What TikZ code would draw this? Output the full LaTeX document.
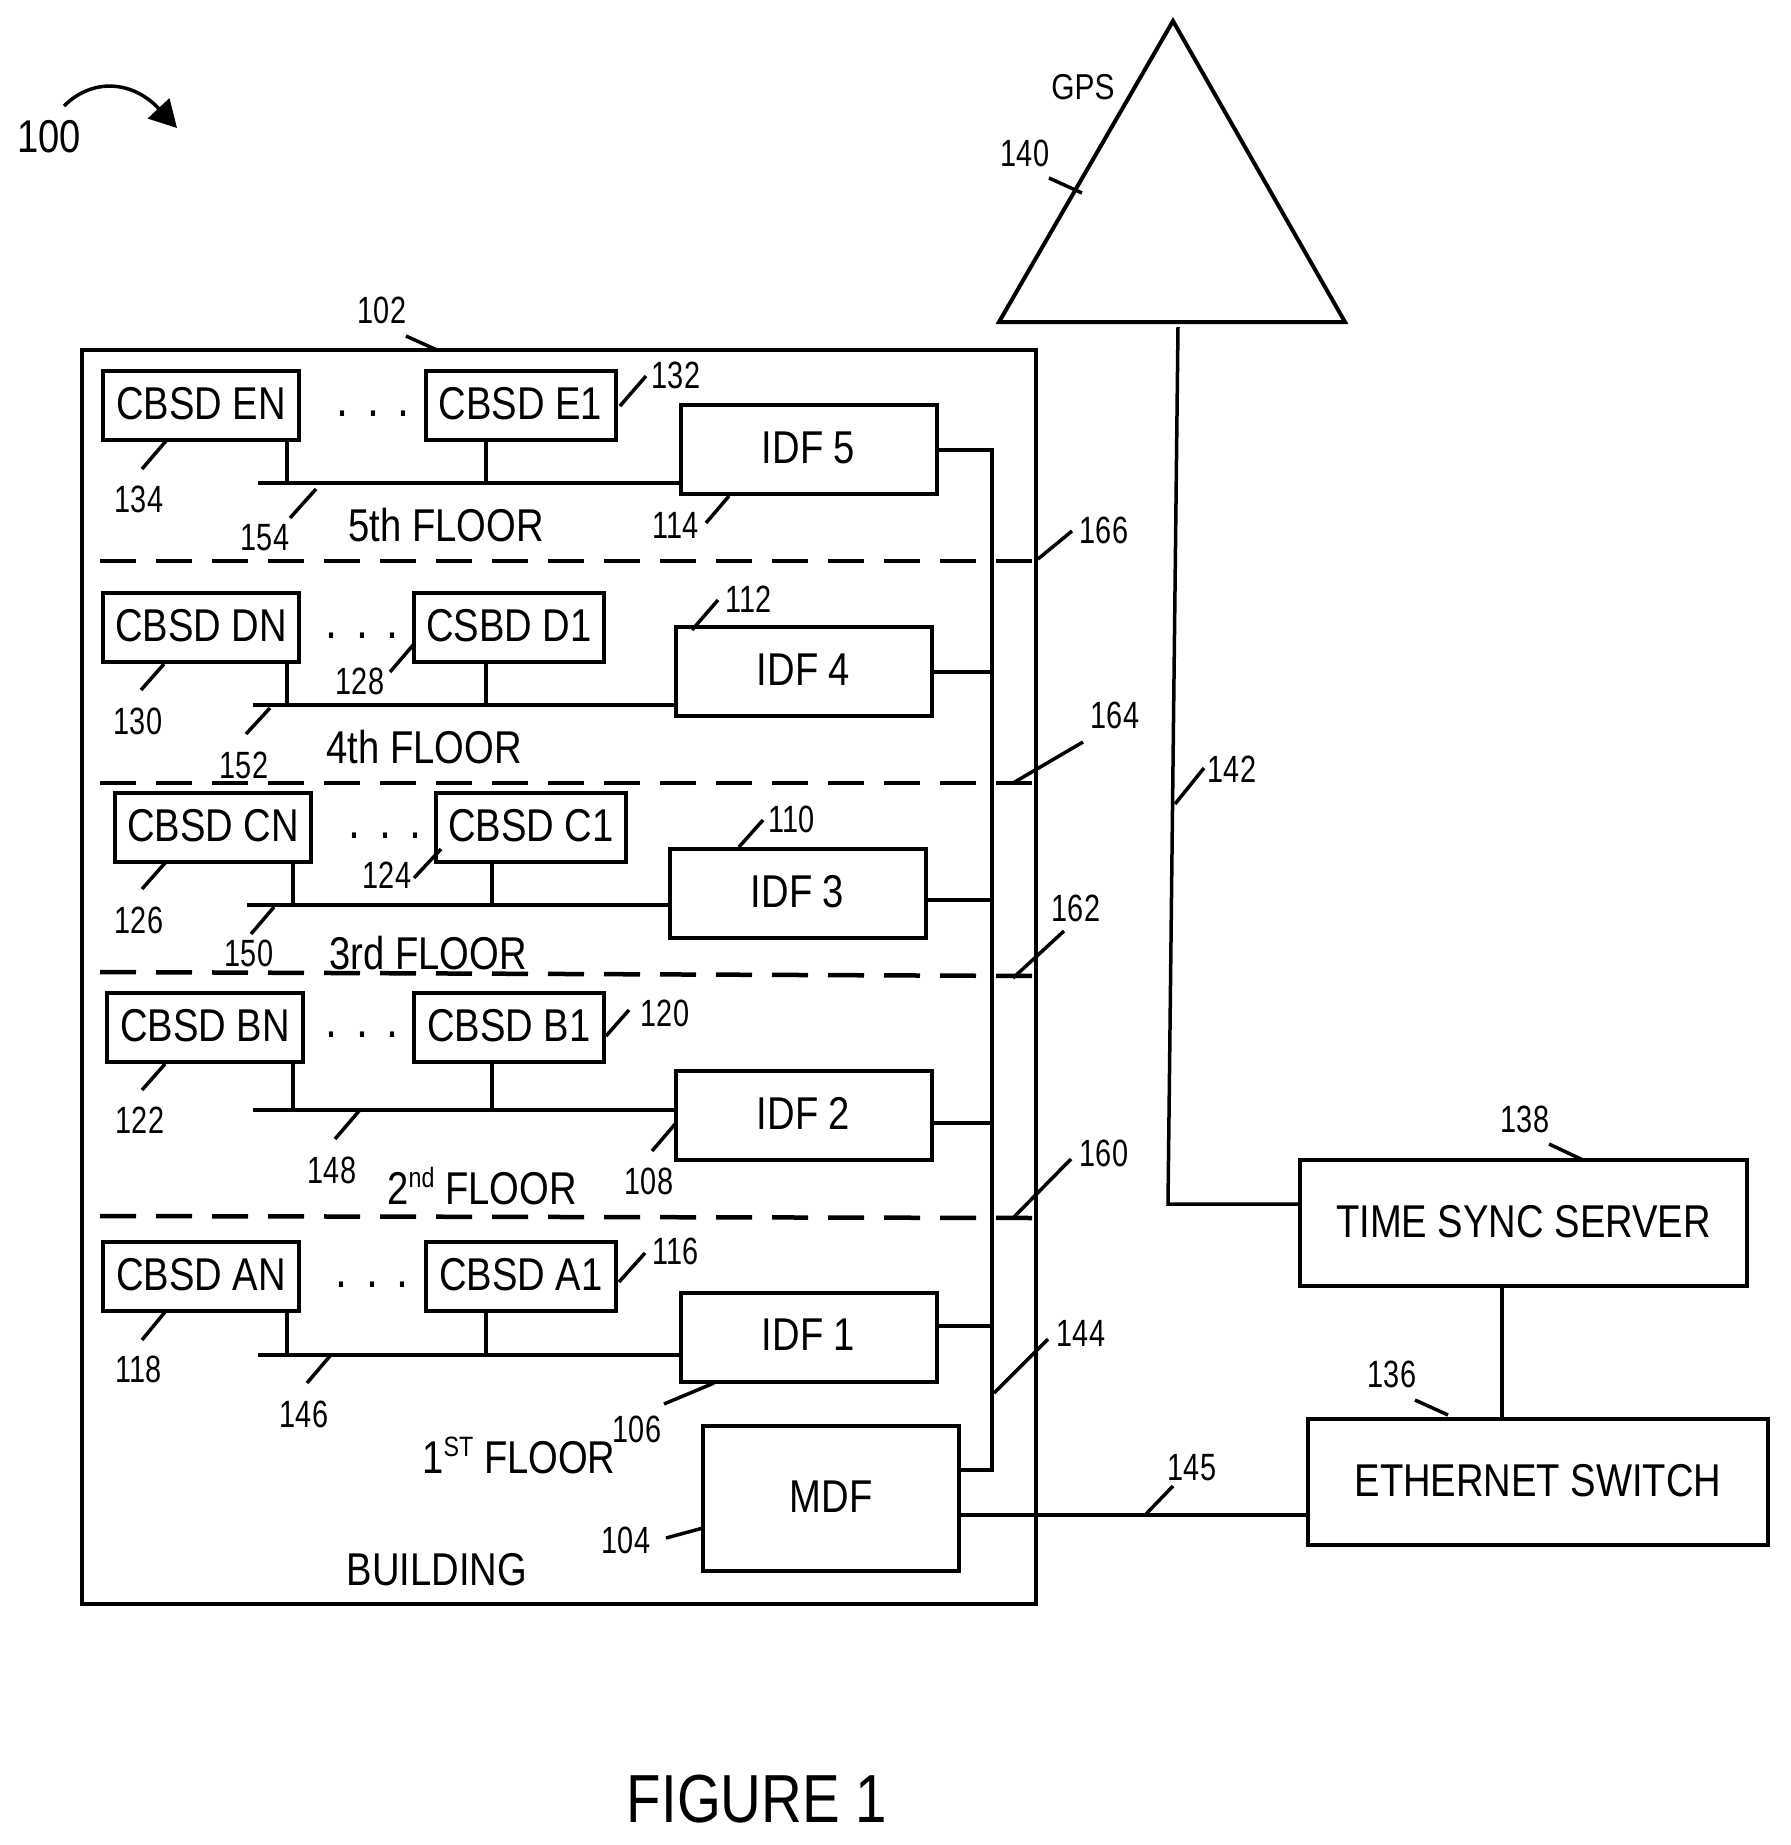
\documentclass[tikz,border=0pt]{standalone}
\usepackage{fontspec}
\setmainfont[FakeStretch=0.83]{Liberation Sans}
\newfontfamily\numfont[FakeStretch=0.76]{Liberation Sans}
\usetikzlibrary{arrows.meta}
\newcommand{\upidx}[1]{\raisebox{17pt}{\fontsize{28}{28}\selectfont #1}}
\tikzset{%
  % Specifications for style of nodes:
            base/.style = {rectangle, draw=black, line width=4pt, outer sep=0pt,
                           inner sep=0pt, text centered, text depth=4pt,
                           font=\fontsize{46}{50}\selectfont},
         cbsdbox/.style = {base, minimum width=190pt, minimum height=69pt},
          idfbox/.style = {base, minimum width=256pt, minimum height=89pt},
          bigbox/.style = {base, minimum height=126pt},
        floortxt/.style = {inner sep=0pt, font=\fontsize{46}{50}\selectfont},
             num/.style = {inner sep=0pt, font=\numfont\fontsize{38}{40}\selectfont},
         dotsrow/.style = {inner sep=0pt, anchor=base, font=\fontsize{52}{52}\selectfont},
            wire/.style = {line width=3.5pt},
            lead/.style = {line width=3.5pt},
       floorline/.style = {line width=4.5pt, dash pattern=on 36pt off 20pt},
}
\begin{document}
\begin{tikzpicture}[x=1pt, y=-1pt]
  \useasboundingbox (0,0) rectangle (1791,1845);
  % Specification of nodes (position, etc.)
  \node (building) [base, minimum width=954pt, minimum height=1254pt] at (559,977) {};
  \node (cbsdEN) [cbsdbox, minimum width=196pt] at (201,405.5) {CBSD EN};
  \node (cbsdE1) [cbsdbox] at (520.5,405.5) {CBSD E1};
  \node (idf5)   [idfbox] at (808.5,449.5) {IDF 5};
  \node (cbsdDN) [cbsdbox, minimum width=196pt] at (201,627.5) {CBSD DN};
  \node (cbsdD1) [cbsdbox] at (509,627.5) {CSBD D1};
  \node (idf4)   [idfbox] at (803.5,671.5) {IDF 4};
  \node (cbsdCN) [cbsdbox, minimum width=196pt] at (213,827) {CBSD CN};
  \node (cbsdC1) [cbsdbox] at (531,827) {CBSD C1};
  \node (idf3)   [idfbox] at (797.5,893) {IDF 3};
  \node (cbsdBN) [cbsdbox, minimum width=196pt] at (205,1027) {CBSD BN};
  \node (cbsdB1) [cbsdbox] at (509,1027) {CBSD B1};
  \node (idf2)   [idfbox] at (803.5,1115.5) {IDF 2};
  \node (cbsdAN) [cbsdbox, minimum width=196pt] at (201,1276) {CBSD AN};
  \node (cbsdA1) [cbsdbox] at (521,1276) {CBSD A1};
  \node (idf1)   [idfbox] at (808.5,1337) {IDF 1};
  \node (mdf)    [base, minimum width=256pt, minimum height=145pt] at (831,1498.5) {MDF};
  \node (tsync)  [bigbox, minimum width=447pt] at (1523.5,1223) {TIME SYNC SERVER};
  \node (switch) [bigbox, minimum width=460pt] at (1538,1482) {ETHERNET SWITCH};

  \node (dotsE) [dotsrow] at (373,416) {.\hspace{19pt}.\hspace{19pt}.};
  \node (dotsD) [dotsrow] at (362,638) {.\hspace{19pt}.\hspace{19pt}.};
  \node (dotsC) [dotsrow] at (385,838) {.\hspace{19pt}.\hspace{19pt}.};
  \node (dotsB) [dotsrow] at (362,1037) {.\hspace{19pt}.\hspace{19pt}.};
  \node (dotsA) [dotsrow] at (372,1287) {.\hspace{19pt}.\hspace{19pt}.};

  \node (floor5) [floortxt] at (446,525) {5th FLOOR};
  \node (floor4) [floortxt] at (424,747) {4th FLOOR};
  \node (floor3) [floortxt] at (428,953) {3rd FLOOR};
  \node (floor2) [floortxt] at (482,1186) {2\upidx{nd} FLOOR};
  \node (floor1) [floortxt] at (519,1455) {1\upidx{ST} FLOOR};
  \node (bldtxt) [floortxt] at (437,1570) {BUILDING};
  \node (gpstxt) [inner sep=0pt, font=\fontsize{36}{38}\selectfont] at (1083,87) {GPS};
  \node (figtxt) [inner sep=0pt, font=\fontsize{68}{70}\selectfont] at (757,1799) {FIGURE 1};

  % reference numerals
  \node (n100) [num, font=\fontsize{46}{48}\selectfont] at (49,137) {100};
  \node (n102) [num] at (382,310) {102};
  \node (n104) [num] at (626,1540) {104};
  \node (n106) [num] at (637,1429) {106};
  \node (n108) [num] at (649,1181) {108};
  \node (n110) [num] at (792,819) {110};
  \node (n112) [num] at (749,599) {112};
  \node (n114) [num] at (676,525) {114};
  \node (n116) [num] at (676,1251) {116};
  \node (n118) [num] at (139,1369) {118};
  \node (n120) [num] at (665,1013) {120};
  \node (n122) [num] at (140,1120) {122};
  \node (n124) [num] at (387,875) {124};
  \node (n126) [num] at (139,920) {126};
  \node (n128) [num] at (360,681) {128};
  \node (n130) [num] at (138,721) {130};
  \node (n132) [num] at (676,375) {132};
  \node (n134) [num] at (139,499) {134};
  \node (n136) [num] at (1392,1374) {136};
  \node (n138) [num] at (1525,1119) {138};
  \node (n140) [num] at (1025,153) {140};
  \node (n142) [num] at (1232,769) {142};
  \node (n144) [num] at (1081,1333) {144};
  \node (n145) [num] at (1192,1468) {145};
  \node (n146) [num] at (304,1414) {146};
  \node (n148) [num] at (332,1170) {148};
  \node (n150) [num] at (249,953) {150};
  \node (n152) [num] at (244,765) {152};
  \node (n154) [num] at (265,538) {154};
  \node (n160) [num] at (1104,1153) {160};
  \node (n162) [num] at (1076,908) {162};
  \node (n164) [num] at (1115,715) {164};
  \node (n166) [num] at (1104,530) {166};

  % GPS triangle
  \coordinate (gpsTop) at (1173,21);
  \coordinate (gpsL) at (999,322);
  \coordinate (gpsR) at (1345,322);
  \draw[line width=4pt, line join=miter] (gpsTop) -- (gpsL) -- (gpsR) -- cycle;

  % Specification of lines between nodes specified above
  \coordinate (busE) at (258,483);
  \coordinate (tapEN) at (287,483);
  \coordinate (tapE1) at (486,483);
  \draw[wire] (busE) -- (busE -| idf5.west);
  \draw[wire] (cbsdEN.south -| tapEN) -- (tapEN);
  \draw[wire] (cbsdE1.south -| tapE1) -- (tapE1);

  \coordinate (busD) at (253,705);
  \coordinate (tapDN) at (287,705);
  \coordinate (tapD1) at (486,705);
  \draw[wire] (busD) -- (busD -| idf4.west);
  \draw[wire] (cbsdDN.south -| tapDN) -- (tapDN);
  \draw[wire] (cbsdD1.south -| tapD1) -- (tapD1);

  \coordinate (busC) at (247,905);
  \coordinate (tapCN) at (293,905);
  \coordinate (tapC1) at (492,905);
  \draw[wire] (busC) -- (busC -| idf3.west);
  \draw[wire] (cbsdCN.south -| tapCN) -- (tapCN);
  \draw[wire] (cbsdC1.south -| tapC1) -- (tapC1);

  \coordinate (busB) at (253,1110);
  \coordinate (tapBN) at (293,1110);
  \coordinate (tapB1) at (492,1110);
  \draw[wire] (busB) -- (busB -| idf2.west);
  \draw[wire] (cbsdBN.south -| tapBN) -- (tapBN);
  \draw[wire] (cbsdB1.south -| tapB1) -- (tapB1);

  \coordinate (busA) at (258,1355);
  \coordinate (tapAN) at (287,1355);
  \coordinate (tapA1) at (486,1355);
  \draw[wire] (busA) -- (busA -| idf1.west);
  \draw[wire] (cbsdAN.south -| tapAN) -- (tapAN);
  \draw[wire] (cbsdA1.south -| tapA1) -- (tapA1);

  % riser from the MDF to the IDFs
  \coordinate (riserT) at (992,450);
  \coordinate (riserB) at (992,1470);
  \coordinate (riser4) at (992,672);
  \coordinate (riser3) at (992,900);
  \coordinate (riser2) at (992,1123);
  \coordinate (riser1) at (992,1326);
  \draw[wire] (riserT -| idf5.east) -- (riserT) -- (riserB) -- (riserB -| mdf.east);
  \draw[wire] (riser4 -| idf4.east) -- (riser4);
  \draw[wire] (riser3 -| idf3.east) -- (riser3);
  \draw[wire] (riser2 -| idf2.east) -- (riser2);
  \draw[wire] (riser1 -| idf1.east) -- (riser1);

  % floor lines
  \coordinate (fl5L) at (100,561);
  \coordinate (fl5R) at (1036,561);
  \coordinate (fl4L) at (100,783);
  \coordinate (fl4R) at (1036,783);
  \coordinate (fl3L) at (100,972);
  \coordinate (fl3R) at (1036,976);
  \coordinate (fl2L) at (100,1216);
  \coordinate (fl2R) at (1036,1218);
  \draw[floorline] (fl5L) -- (fl5R);
  \draw[floorline] (fl4L) -- (fl4R);
  \draw[floorline] (fl3L) -- (fl3R);
  \draw[floorline] (fl2L) -- (fl2R);

  % outside the building
  \coordinate (ethY) at (1308,1515);
  \coordinate (syncX) at (1502,1286);
  \coordinate (gpsFoot) at (1178,327);
  \coordinate (gpsBend) at (1168,1204);
  \draw[wire] (ethY -| mdf.east) -- (ethY -| switch.west);
  \draw[wire] (tsync.south -| syncX) -- (switch.north -| syncX);
  \draw[wire] (gpsFoot) -- (gpsBend) -- (gpsBend -| tsync.west);

  % arrow beside 100
  \coordinate (arcA) at (64,106);
  \coordinate (arcB) at (177,128);
  \draw[line width=3.5pt, -{Triangle[length=27pt,width=29pt]}] (arcA) .. controls (92,78) and (132,80) .. (arcB);

  % leader lines of the numerals
  \coordinate (a102) at (406,336); \coordinate (b102) at (437,350); \draw[lead] (a102) -- (b102);
  \coordinate (a104) at (666,1538); \coordinate (b104) at (703,1528); \draw[lead] (a104) -- (b104);
  \coordinate (a106) at (664,1404); \coordinate (b106) at (714,1383); \draw[lead] (a106) -- (b106);
  \coordinate (a108) at (652,1151); \coordinate (b108) at (676,1123); \draw[lead] (a108) -- (b108);
  \coordinate (a110) at (763,820); \coordinate (b110) at (739,847); \draw[lead] (a110) -- (b110);
  \coordinate (a112) at (718,600); \coordinate (b112) at (692,630); \draw[lead] (a112) -- (b112);
  \coordinate (a114) at (706,523); \coordinate (b114) at (729,496); \draw[lead] (a114) -- (b114);
  \coordinate (a116) at (645,1253); \coordinate (b116) at (619,1282); \draw[lead] (a116) -- (b116);
  \coordinate (a118) at (142,1340); \coordinate (b118) at (165,1312); \draw[lead] (a118) -- (b118);
  \coordinate (a120) at (629,1010); \coordinate (b120) at (606,1036); \draw[lead] (a120) -- (b120);
  \coordinate (a122) at (142,1090); \coordinate (b122) at (165,1064); \draw[lead] (a122) -- (b122);
  \coordinate (a124) at (414,878); \coordinate (b124) at (441,849); \draw[lead] (a124) -- (b124);
  \coordinate (a126) at (142,889); \coordinate (b126) at (165,863); \draw[lead] (a126) -- (b126);
  \coordinate (a128) at (390,672); \coordinate (b128) at (414,644); \draw[lead] (a128) -- (b128);
  \coordinate (a130) at (141,690); \coordinate (b130) at (164,664); \draw[lead] (a130) -- (b130);
  \coordinate (a132) at (646,376); \coordinate (b132) at (620,406); \draw[lead] (a132) -- (b132);
  \coordinate (a134) at (142,469); \coordinate (b134) at (166,441); \draw[lead] (a134) -- (b134);
  \coordinate (a136) at (1415,1400); \coordinate (b136) at (1448,1415); \draw[lead] (a136) -- (b136);
  \coordinate (a138) at (1549,1144); \coordinate (b138) at (1583,1160); \draw[lead] (a138) -- (b138);
  \coordinate (a140) at (1049,178); \coordinate (b140) at (1082,193); \draw[lead] (a140) -- (b140);
  \coordinate (a142) at (1204,768); \coordinate (b142) at (1175,804); \draw[lead] (a142) -- (b142);
  \coordinate (a144) at (1048,1339); \coordinate (b144) at (994,1393); \draw[lead] (a144) -- (b144);
  \coordinate (a145) at (1173,1486); \coordinate (b145) at (1146,1514); \draw[lead] (a145) -- (b145);
  \coordinate (a146) at (307,1383); \coordinate (b146) at (330,1356); \draw[lead] (a146) -- (b146);
  \coordinate (a148) at (335,1139); \coordinate (b148) at (359,1111); \draw[lead] (a148) -- (b148);
  \coordinate (a150) at (251,934); \coordinate (b150) at (274,907); \draw[lead] (a150) -- (b150);
  \coordinate (a152) at (246,734); \coordinate (b152) at (270,708); \draw[lead] (a152) -- (b152);
  \coordinate (a154) at (290,518); \coordinate (b154) at (316,489); \draw[lead] (a154) -- (b154);
  \coordinate (a160) at (1071,1159); \coordinate (b160) at (1013,1218); \draw[lead] (a160) -- (b160);
  \coordinate (a162) at (1064,931); \coordinate (b162) at (1013,978); \draw[lead] (a162) -- (b162);
  \coordinate (a164) at (1083,742); \coordinate (b164) at (1013,783); \draw[lead] (a164) -- (b164);
  \coordinate (a166) at (1072,531); \coordinate (b166) at (1038,559); \draw[lead] (a166) -- (b166);
\end{tikzpicture}
\end{document}
